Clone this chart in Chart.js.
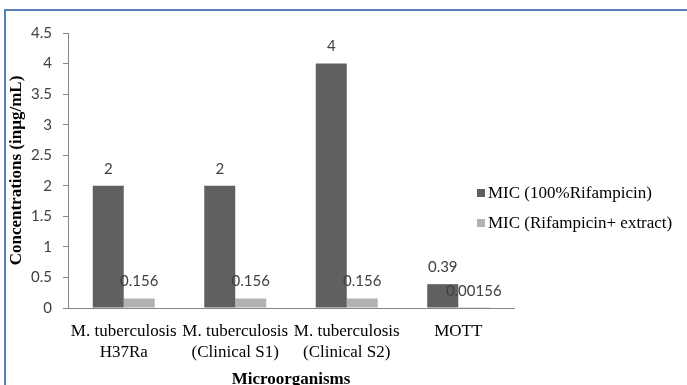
<!DOCTYPE html>
<html>
<head>
<meta charset="utf-8">
<script src="https://cdn.jsdelivr.net/npm/chart.js@4.4.0/dist/chart.umd.min.js"></script>
<style>
  html, body { margin: 0; padding: 0; background: #ffffff; }
  #wrap { position: relative; width: 687px; height: 385px; overflow: hidden; }
  #frame { position: absolute; left: 4px; top: 9px; width: 700px; height: 400px;
           border-top: 2px solid #5b80be; border-left: 2px solid #5b80be; }
  canvas { position: absolute; left: 0; top: 0; }
</style>
</head>
<body>
<div id="wrap">
  <div id="frame"></div>
  <canvas id="c" width="687" height="385"></canvas>
</div>
<script>
const categories = [
  ["M. tuberculosis", "H37Ra"],
  ["M. tuberculosis", "(Clinical S1)"],
  ["M. tuberculosis", "(Clinical S2)"],
  ["MOTT"]
];
const seriesNames = ["MIC (100%Rifampicin)", "MIC (Rifampicin+ extract)"];
const micRifampicin = [2, 2, 4, 0.39];
const micCombined = [0.156, 0.156, 0.156, 0.00156];
const yTicks = [0, 0.5, 1, 1.5, 2, 2.5, 3, 3.5, 4, 4.5];

const serif = "'Liberation Serif', 'Times New Roman', serif";
const sans = "Lato, 'Liberation Sans', sans-serif";

const labelPlugin = {
  id: 'barLabels',
  afterDatasetsDraw(chart) {
    const ctx = chart.ctx;
    ctx.save();
    ctx.font = "15px " + sans;
    ctx.fillStyle = "#404040";
    ctx.textAlign = "center";
    ctx.textBaseline = "middle";
    chart.data.datasets.forEach((ds, i) => {
      const meta = chart.getDatasetMeta(i);
      meta.data.forEach((bar, j) => {
        ctx.fillText(String(ds.data[j]), bar.x, bar.y - 17);
      });
    });
    ctx.restore();
  }
};

const legendPlugin = {
  id: 'customLegend',
  afterDraw(chart) {
    const ctx = chart.ctx;
    ctx.save();
    ctx.font = "17px " + serif;
    ctx.textBaseline = "middle";
    ctx.textAlign = "left";
    const x0 = 477, ys = [193, 223];
    chart.data.datasets.forEach((ds, i) => {
      ctx.fillStyle = ds.backgroundColor;
      ctx.fillRect(x0, ys[i] - 4, 8, 8);
      ctx.fillStyle = "#000000";
      ctx.fillText(ds.label, x0 + 11, ys[i] + 1);
    });
    ctx.restore();
  }
};

new Chart(document.getElementById('c'), {
  type: 'bar',
  data: {
    labels: categories,
    datasets: [
      { label: seriesNames[0], data: micRifampicin, backgroundColor: "#606060" },
      { label: seriesNames[1], data: micCombined, backgroundColor: "#b2b2b2" }
    ]
  },
  options: {
    responsive: false,
    animation: false,
    layout: { padding: { left: 0, right: 173, top: 33, bottom: 0 } },
    plugins: { legend: { display: false }, tooltip: { enabled: false } },
    datasets: { bar: { categoryPercentage: 0.556, barPercentage: 1.0 } },
    scales: {
      x: {
        grid: { display: false, drawTicks: false },
        border: { display: true, color: "#868686", width: 1 },
        ticks: {
          color: "#000000",
          font: { family: serif, size: 17, lineHeight: 1.25 },
          padding: 13,
          maxRotation: 0,
          autoSkip: false
        },
        title: {
          display: true,
          text: "Microorganisms",
          color: "#000000",
          font: { family: serif, size: 17, weight: "bold" },
          padding: { top: 2, bottom: -5 }
        },
        afterFit(s) { s.height = 77; }
      },
      y: {
        min: 0,
        max: 4.5,
        afterBuildTicks(s) { s.ticks = yTicks.map(v => ({ value: v })); },
        grid: { display: true, drawOnChartArea: false, drawTicks: true, tickLength: 5, color: "#868686" },
        border: { display: true, color: "#868686", width: 1 },
        ticks: {
          color: "#404040",
          font: { family: sans, size: 15 },
          padding: 11,
          callback: (v) => String(v)
        },
        title: {
          display: true,
          text: "Concentrations (inµg/mL)",
          color: "#000000",
          font: { family: serif, size: 17, weight: "bold" },
          padding: { top: 6, bottom: 0 }
        },
        afterFit(s) { s.width = 68; }
      }
    }
  },
  plugins: [labelPlugin, legendPlugin]
});
</script>
</body>
</html>
